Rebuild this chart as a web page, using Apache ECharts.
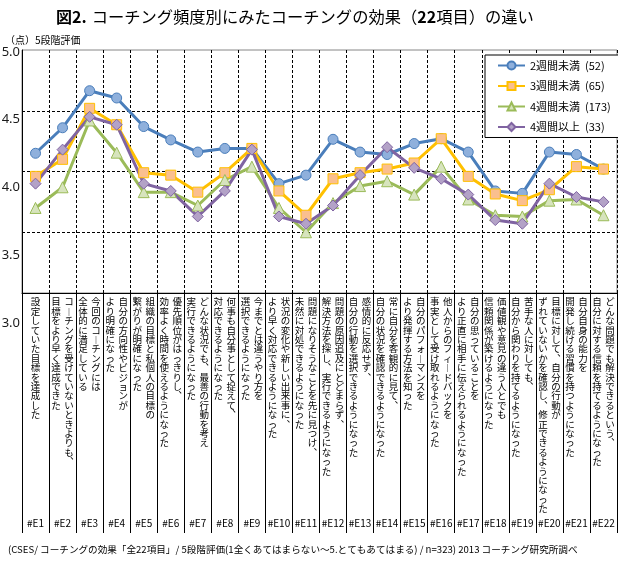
<!DOCTYPE html>
<html><head><meta charset="utf-8">
<script src="https://cdn.jsdelivr.net/npm/echarts@6/dist/echarts.min.js"></script>
<style>html,body{margin:0;padding:0;background:#fff}#c{width:618px;height:571px}</style>
</head><body><div id="c"></div>
<script>
const codes = ['#E1','#E2','#E3','#E4','#E5','#E6','#E7','#E8','#E9','#E10','#E11','#E12','#E13','#E14','#E15','#E16','#E17','#E18','#E19','#E20','#E21','#E22'];
// first line of each item (right column in vertical writing)
const line1 = [
 '設定していた目標を達成した',
 'コーチングを受けていないときよりも、',
 '今回のコーチングには',
 '自分の方向性やビジョンが',
 '組織の目標と私個人の目標の',
 '優先順位がはっきりし、',
 'どんな状況でも、最善の行動を考え',
 '何事も自分事として捉えて、',
 '今までとは違うやり方を',
 '状況の変化や新しい出来事に、',
 '問題になりそうなことを先に見つけ、',
 '問題の原因追及にとどまらず、',
 '感情的に反応せず、',
 '常に自分を客観的に見て、',
 '自分のパフォーマンスを',
 '他人からのフィードバックを',
 '自分の思っていることを',
 '価値観や意見の違う人とでも',
 '苦手な人に対しても、',
 '目標に対して、自分の行動が',
 '自分自身の能力を',
 'どんな問題でも解決できるという、'
];
// second line of each item (left column)
const line2 = [
 '',
 '目標をより早く達成できた',
 '全体的に満足している',
 'より明確になった',
 '繋がりが明確になった',
 '効率よく時間を使えるようになった',
 '実行できるようになった',
 '対応できるようになった',
 '選択できるようになった',
 'より早く対応できるようになった',
 '未然に対処できるようになった',
 '解決方法を探し、実行できるようになった',
 '自分の行動を選択できるようになった',
 '自分の状況を確認できるようになった',
 'より発揮する方法を知った',
 '事実として受け取れるようになった',
 'より正直に相手に伝えられるようになった',
 '信頼関係が築けるようになった',
 '自分から関わりを持てるようになった',
 'ずれていないかを確認し、修正できるようになった',
 '開発し続ける習慣を持つようになった',
 '自分に対する信頼を持てるようになった'
];
const seriesNames = ['2週間未満  (52)','3週間未満  (65)','4週間未満  (173)','4週間以上  (33)'];
const under2w = [4.15,4.36,4.665,4.605,4.37,4.26,4.16,4.19,4.19,3.90,3.97,4.265,4.16,4.14,4.23,4.27,4.16,3.84,3.82,4.16,4.14,4.02];
const under3w = [3.96,4.10,4.52,4.385,3.99,3.97,3.83,3.99,4.19,3.84,3.64,3.94,3.99,4.02,4.07,4.27,3.96,3.815,3.76,3.85,4.04,4.02];
const under4w = [3.70,3.87,4.42,4.155,3.83,3.83,3.72,3.93,4.04,3.70,3.50,3.74,3.88,3.92,3.81,4.04,3.77,3.64,3.63,3.76,3.77,3.64];
const over4w  = [3.90,4.18,4.45,4.385,3.90,3.84,3.63,3.84,4.18,3.63,3.57,3.72,3.97,4.20,4.03,3.94,3.81,3.60,3.57,3.90,3.79,3.75];
const yMin = 3.0, yMax = 5.0, yStep = 0.5;

const JP = '"Noto Sans CJK JP", "Noto Sans", sans-serif';
function vch(c){ if(c==='ー') return '︱'; if(c==='、') return '︑'; return c; }
function vlabel(v, i){
  const r = Array.from(line1[i]), l = Array.from(line2[i]);
  const n = Math.max(r.length, l.length);
  const rows = [];
  for(let k=0;k<n;k++){
    if(l.length===0){ rows.push('{s|'+vch(r[k])+'}'); }
    else rows.push('{c|'+(l[k]?vch(l[k]):'　')+'}{c|'+(r[k]?vch(r[k]):'　')+'}');
  }
  return rows.join('\n');
}
const colStyle = {fontSize:9.5, lineHeight:9.4, width:13, align:'center', fontFamily:JP, color:'#000'};

const chart = echarts.init(document.getElementById('c'), null, {renderer:'canvas'});
const mk = (name, data, sym, size, line, fill) => ({
  name, type:'line', data, symbol:sym, symbolSize:size, xAxisIndex:0, yAxisIndex:0,
  lineStyle:{color:line, width:3}, itemStyle:{color:fill, borderColor:line, borderWidth:1},
  emphasis:{disabled:true}, z:2
});
chart.setOption({
  animation:false,
  backgroundColor:'#fff',
  title:[
    {text:'{b|図2.} {n|コーチング頻度別にみたコーチングの効果（}{b|22}{n|項目）の違い}', left:51, top:3,
     textStyle:{rich:{b:{fontSize:16, fontWeight:'bold', fontFamily:JP, color:'#000'}, n:{fontSize:16.3, fontWeight:'normal', fontFamily:JP, color:'#000'}}}},
    {text:'（点）5段階評価', left:0, top:30, textStyle:{fontSize:10, fontWeight:'normal', fontFamily:JP, color:'#000'}},
    {text:'(CSES/ コーチングの効果「全22項目」/ 5段階評価(1全くあてはまらない～5.とてもあてはまる) / n=323) 2013 コーチング研究所調べ', left:3, top:540,
     textStyle:{fontSize:9.6, fontWeight:'normal', fontFamily:JP, color:'#000'}}
  ],
  legend:{
    orient:'vertical', left:485, top:55, data:seriesNames,
    backgroundColor:'#fff', borderColor:'#000', borderWidth:1, padding:[5,16,5,12],
    itemWidth:27, itemHeight:10, itemGap:9.5,
    textStyle:{fontSize:11, fontFamily:JP, color:'#000'}
  },
  grid:[
    {left:22, right:1, top:50, height:243, show:true, borderColor:'#868686', borderWidth:1, containLabel:false, outerBoundsMode:'none'},
    {left:22, width:10, top:52, height:271, show:false, containLabel:false, outerBoundsMode:'none'}
  ],
  xAxis:[
    {type:'category', gridIndex:0, data:codes, boundaryGap:true, position:'bottom',
     axisLine:{show:true, lineStyle:{color:'#000', width:1}},
     axisTick:{show:true, interval:0, length:240, lineStyle:{color:'#000', width:1}},
     splitLine:{show:true, interval:0, lineStyle:{color:'#000', width:1, type:[3,2]}},
     axisLabel:{interval:0, margin:4, verticalAlign:'top', hideOverlap:false, formatter:vlabel,
       rich:{c:colStyle, s:Object.assign({}, colStyle, {width:26})}}},
    {type:'category', gridIndex:0, data:codes, position:'bottom', offset:230,
     axisLine:{show:false}, axisTick:{show:false}, splitLine:{show:false},
     axisLabel:{interval:0, margin:0, verticalAlign:'middle', fontSize:10, fontFamily:JP, color:'#000', hideOverlap:false}},
    {type:'value', gridIndex:1, show:false, min:0, max:1}
  ],
  yAxis:[
    {type:'value', gridIndex:0, min:yMin, max:yMax, interval:yStep,
     axisLine:{show:true, lineStyle:{color:'#000', width:1}}, axisTick:{show:false}, axisLabel:{show:false},
     splitLine:{show:true, lineStyle:{color:['#000','#000','#000','#000','rgba(0,0,0,0)'], width:1, type:[3,2]}}},
    {type:'value', gridIndex:1, min:yMin, max:yMax, interval:yStep,
     axisLine:{show:false}, axisTick:{show:false}, splitLine:{show:false},
     axisLabel:{show:true, margin:2, fontSize:13, fontFamily:'"Noto Sans", sans-serif', color:'#1a1a1a', formatter:v=>v.toFixed(1)}}
  ],
  series:[
    mk(seriesNames[0], under2w, 'circle', 10, '#4a7ebb', '#8fb0dc'),
    mk(seriesNames[1], under3w, 'rect', 10, '#ffc000', '#fabf8f'),
    mk(seriesNames[2], under4w, 'triangle', 11, '#9bbb59', '#d7e4bd'),
    mk(seriesNames[3], over4w, 'diamond', 11, '#8064a2', '#b3a2c7')
  ]
});
</script></body></html>
